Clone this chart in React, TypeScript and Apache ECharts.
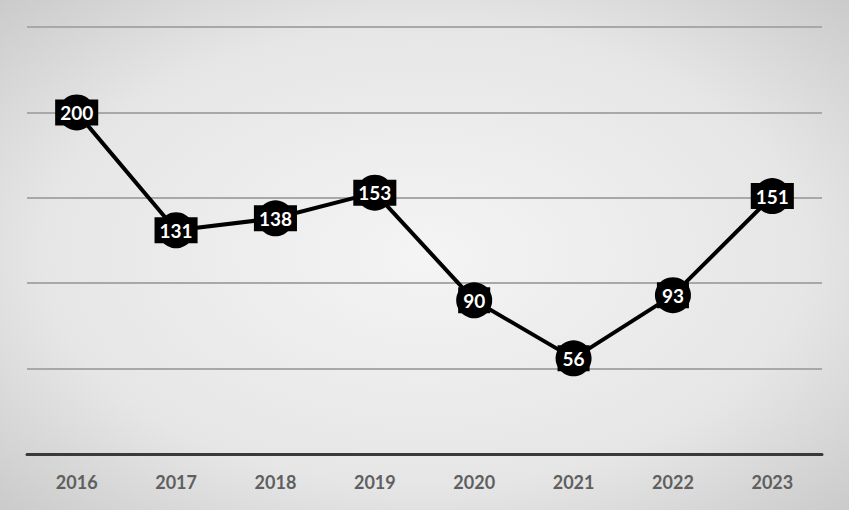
import React, { useEffect, useRef } from "react";
import * as echarts from "echarts";

const categories = ["2016", "2017", "2018", "2019", "2020", "2021", "2022", "2023"];
const values = [200, 131, 138, 153, 90, 56, 93, 151];

export default function App() {
  const ref = useRef<HTMLDivElement>(null);
  useEffect(() => {
    const chart = echarts.init(ref.current!, null, { renderer: "svg" });
    chart.setOption({
      animation: false,
      backgroundColor: {
        type: "radial",
        x: 0.5,
        y: 0.5,
        r: 0.75,
        colorStops: [
          { offset: 0, color: "#f4f4f4" },
          { offset: 0.6, color: "#e6e6e6" },
          { offset: 1, color: "#c6c6c6" },
        ],
      },
      grid: { left: 27, right: 27, top: 27, bottom: 56, containLabel: false },
      xAxis: {
        type: "category",
        data: categories,
        boundaryGap: true,
        axisLine: { lineStyle: { color: "#3a3a3a", width: 3 } },
        axisTick: { show: false },
        axisLabel: {
          color: "#5f5f5f",
          fontSize: 18,
          fontWeight: "bold",
          fontFamily: "Lato, 'Open Sans', sans-serif",
          margin: 19,
        },
      },
      yAxis: {
        type: "value",
        min: 0,
        max: 250,
        interval: 50,
        axisLabel: { show: false },
        axisLine: { show: false },
        axisTick: { show: false },
        splitLine: { lineStyle: { color: "#a8a8a8", width: 2 } },
      },
      series: [
        {
          type: "line",
          data: values,
          symbol: "circle",
          symbolSize: 36,
          itemStyle: { color: "#000" },
          lineStyle: { color: "#000", width: 4 },
          label: {
            show: true,
            position: "inside",
            color: "#fff",
            fontSize: 19,
            fontWeight: "bold",
            fontFamily: "Lato, 'Open Sans', sans-serif",
            backgroundColor: "#000",
            padding: [4, 5, 3, 5],
          },
        },
      ],
    });
    return () => chart.dispose();
  }, []);
  return (
    <div
      ref={ref}
      style={{ position: "absolute", left: 0, top: 0, width: 849, height: 510 }}
    />
  );
}
